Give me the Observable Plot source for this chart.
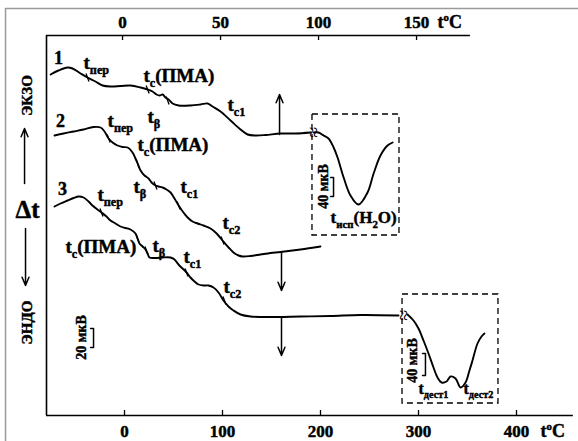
<!DOCTYPE html>
<html><head><meta charset="utf-8">
<script src="https://cdn.jsdelivr.net/npm/d3@7"></script>
<script src="https://cdn.jsdelivr.net/npm/@observablehq/plot@0.6"></script>
<style>body{margin:0;background:#fff} svg{display:block}</style>
</head><body><div id="chart"></div>
<script>
// ---- DATA (x in °C, y = Δt in arbitrary units) ----
// Curve 1 & 2 are read against the TOP temperature scale, curve 3 against the BOTTOM scale.
const curve1T = [-36.7,-32.7,-28.1,-25.5,-21.4,-17.9,-13.8,-10.2,-6.1,-1.0,4.1,9.2,12.8,15.3,17.3,18.9,20.4,21.9,23.5,25.5,28.6,34.7,39.8,43.4,45.9,50.0,55.1,60.2,63.8,67.9,73.0,80.6,88.3,95.9];
const curve1D = [341,345,348,347,342,338,334,330,329,329.5,330,328,326,324,321,320,321,318,316,312,310,310,311,312,309,304,295,286,281,280,280.5,282,282,283];
const box1T = [97.4,100.0,102.6,105.1,107.7,109.7,112.8,116.3,120.4,125.0,128.1,131.6,135.2,137.8];
const box1D = [283,283,280,277,268,258,238,220,211,223,242,260,270,273];
const curve2T = [-34.7,-30.1,-25.0,-19.9,-14.8,-11.2,-9.2,-7.1,-5.1,-2.6,0,2.6,5.1,6.6,7.7,9.2,11.2,13.3,14.8,16.8,18.4,20.4,22.4,24.5,26.5,28.6,31.1,33.2,35.7,38.3,41.3,44.9,48.0,51.0,54.1,56.6,59.2,61.2,65.3,70.4,75.5,80.6,90.8,101.0];
const curve2D = [280,282,284,286,288.5,288,284,277,273,270,268.5,268,263,257,252,245,240,237,233,230,229,228,226,223,217,210,203,198,194,192,190,187,182,175,168,163,160,159,159.5,161,162.5,163.5,166,169];
const curve3T = [-71.4,-65.3,-58.2,-52.0,-46.9,-41.8,-36.7,-32.7,-27.6,-23.5,-18.4,-14.3,-9.2,-4.1,1.0,6.1,11.2,13.3,15.3,18.4,21.4,23.5,25.5,31.6,38.8,46.9,51.0,55.1,59.2,63.3,67.3,71.4,75.5,80.6,85.7,90.8,95.9,101.0,106.1,111.2,118.4,128.6,149.0,179.6,210.2,240.8,279.6];
const curve3D = [209,212,215,217.5,219,218,214,210,206,203,199,195,192,189,187.5,186,182,177,172,169,166,162,158,157.5,158,158,156,151,147,143,138,134,131,130,130,128,123,115,109,105,101,99,98.5,99,99.5,100.5,100];
const box2T = [288.8,294.9,300.0,305.1,310.2,315.3,319.4,323.5,328.6,332.7,337.8,342.9,348.0,352.0,355.1,360.2,364.3,367.3];
const box2D = [101,95,87,75,62,48,38,33,34,39,37,28,33,45,55,72,79,82];
// transition marks on the curves
const ticks1T = [-17.9,12.8,23.0], ticks1D = [338,326,315];
const ticks2T = [-7.1,7.7,16.8,28.6,51.0], ticks2D = [277,252,230,210,175];
const ticks3T = [-23.5,13.3,22.4,63.3,102.0], ticks3D = [203,177,165,143,115];
// axis ticks
const topTicks = [0,50,100,150];
const bottomTicks = [0,100,200,300,400];

// ---- helpers ----
const topToBottom = t => 2*t - 2; // top scale expressed on bottom scale
const pts = (T, D, f = d => d) => T.map((t, i) => ({x: f(t), y: D[i]}));
const c1 = pts(curve1T, curve1D, topToBottom);
const b1 = pts(box1T, box1D, topToBottom);
const c2 = pts(curve2T, curve2D, topToBottom);
const c3 = pts(curve3T, curve3D);
const b2 = pts(box2T, box2D);
const tk = [...pts(ticks1T, ticks1D, topToBottom), ...pts(ticks2T, ticks2D, topToBottom), ...pts(ticks3T, ticks3D)];

// ---- annotations (positions in data units) ----
const curveNums = [{s:"1",x:-67.3,y:357},{s:"2",x:-65.3,y:294},{s:"3",x:-63.3,y:226}];
const tLabels = [
 {s:"t_{пер}",x:-41.8,y:353},{s:"t_{c}(ПМА)",x:19.4,y:340},{s:"t_{β}",x:23.5,y:299},{s:"t_{c1}",x:105.1,y:311},
 {s:"t_{пер}",x:-17.3,y:295},{s:"t_{c}(ПМА)",x:13.3,y:271},{s:"t_{β}",x:9.2,y:229},{s:"t_{c1}",x:57.1,y:229},{s:"t_{c2}",x:100,y:193},
 {s:"t_{пер}",x:-27.6,y:221},{s:"t_{c}(ПМА)",x:-60.2,y:169},{s:"t_{β}",x:28.6,y:170},{s:"t_{c1}",x:60.2,y:159},{s:"t_{c2}",x:101,y:129}
];
const boxLabel1 = [{s:"t_{исп}(H_{2}O)",x:210.2,y:198}];
const boxLabels2 = [{s:"t_{дест1}",x:300,y:27},{s:"t_{дест2}",x:345.9,y:27}];
const rotLabels = [{s:"ЭКЗО",x:-99,y:320},{s:"ЭНДО",x:-99,y:93}];
const scaleLabels = [{s:"20 мкВ",x:-43.9,y:78},{s:"40 мкВ",x:203.1,y:229},{s:"40 мкВ",x:293.9,y:55}];
const brackets = [{x:-31.6,y1:87,y2:68},{x:213.3,y1:238,y2:219},{x:307.1,y1:62,y2:40}];
const bracketPts = brackets.flatMap((b,i) => [{x:b.x-3,y:b.y1,k:i},{x:b.x,y:b.y1,k:i},{x:b.x,y:b.y2,k:i},{x:b.x-3,y:b.y2,k:i}]);
const boxes = [{x1:191.8,x2:280.6,y1:180,y2:301},{x1:283.7,x2:381.6,y1:12,y2:121}];
const breaks = [{x:192.9,y:283},{x:284.7,y:100}];
const arrows = [{x:158.2,y1:281,y2:321},{x:160.2,y1:163,y2:125},{x:160.2,y1:98,y2:60},{x:-102,y1:232,y2:287},{x:-101,y1:187,y2:130}];
const axLines = [{x1:-79.6,x2:353,y:380},{x1:-79.6,x2:458,y:0}];
const frameLines = [{x1:-121.4,x2:470,y:407}];

const F = "'Liberation Serif', 'Times New Roman', serif";
const T = (data, o) => Plot.text(data, {x:"x", y:"y", text:"s", fontFamily:F, fontWeight:"bold", fill:"black", stroke:"black", strokeWidth:0.45, paintOrder:"normal", ...o});
const chart = Plot.plot({
  width: 578, height: 441,
  marginLeft: 46, marginRight: 8, marginTop: 35, marginBottom: 26,
  x: {domain: [-79.6, 455.1], axis: null},
  y: {domain: [0, 380], axis: null},
  style: {fontFamily: F, background: "white", overflow: "visible"},
  marks: [
    // frame of the scanned figure
    Plot.ruleY(frameLines, {y:"y", x1:"x1", x2:"x2", stroke:"#9a9a9a", strokeWidth:1.5}),
    Plot.ruleX([{x:-121.4}], {x:"x", y1:-30, y2:407, stroke:"#9a9a9a", strokeWidth:1.5}),
    // axes
    Plot.ruleY(axLines, {y:"y", x1:"x1", x2:"x2", stroke:"black", strokeWidth:1.6}),
    Plot.ruleX([{x:-79.6}], {x:"x", y1:0, y2:380, stroke:"black", strokeWidth:1.6}),
    Plot.ruleX(topTicks.map(t => ({x: topToBottom(t)})), {x:"x", y1:380, y2:375, stroke:"black", strokeWidth:1.3}),
    Plot.ruleX(bottomTicks.map(t => ({x: t})), {x:"x", y1:0, y2:5, stroke:"black", strokeWidth:1.3}),
    T(topTicks.map(t => ({x: topToBottom(t), y:393, s: String(t)})), {fontSize:17}),
    T(bottomTicks.map(t => ({x: t, y:-16, s: String(t)})), {fontSize:17}),
    T([{x:319.4,y:393,s:"t^{o}C"},{x:424.5,y:-16,s:"t^{o}C"}], {textAnchor:"start", fontSize:18}),
    // curves
    Plot.line(c1, {x:"x", y:"y", curve:"catmull-rom", stroke:"black", strokeWidth:1.9}),
    Plot.line(b1, {x:"x", y:"y", curve:"catmull-rom", stroke:"black", strokeWidth:1.9}),
    Plot.line(c2, {x:"x", y:"y", curve:"catmull-rom", stroke:"black", strokeWidth:1.9}),
    Plot.line(c3, {x:"x", y:"y", curve:"catmull-rom", stroke:"black", strokeWidth:1.9}),
    Plot.line(b2, {x:"x", y:"y", curve:"catmull-rom", stroke:"black", strokeWidth:1.9}),
    Plot.link(tk, {x1:d=>d.x-1.5, x2:d=>d.x+1.5, y1:d=>d.y+4, y2:d=>d.y-4, stroke:"black", strokeWidth:1.3}),
    // boxes, breaks, arrows, scale bars
    Plot.rect(boxes, {x1:"x1", x2:"x2", y1:"y1", y2:"y2", fill:"none", stroke:"black", strokeWidth:1.3, strokeDasharray:"6,4"}),
    Plot.text(breaks, {x:"x", y:"y", text:()=>"≈", rotate:90, fontSize:20, fontFamily:F, fill:"black"}),
    Plot.arrow(arrows, {x1:"x", x2:"x", y1:"y1", y2:"y2", stroke:"black", strokeWidth:1.5, headLength:9, headAngle:45}),
    Plot.line(bracketPts, {x:"x", y:"y", z:"k", stroke:"black", strokeWidth:1.5}),
    // labels
    T(curveNums, {fontSize:18}),
    T(tLabels, {textAnchor:"start", fontSize:19}),
    T(boxLabel1, {textAnchor:"start", fontSize:17}),
    T(boxLabels2, {textAnchor:"start", fontSize:16}),
    T(rotLabels, {rotate:-90, fontSize:15}),
    T(scaleLabels, {rotate:-90, fontSize:14}),
    T([{x:-111.2,y:206,s:"Δt"}], {textAnchor:"start", fontSize:25})
  ]
});
document.getElementById("chart").appendChild(chart);

// turn _{...} / ^{...} into sub/superscript tspans
const NS = "http://www.w3.org/2000/svg";
chart.querySelectorAll("text").forEach(t => {
  const s = t.textContent;
  if (!/[_^]\{/.test(s)) return;
  const fs = parseFloat(getComputedStyle(t).fontSize) || 18;
  const parts = s.split(/([_^]\{[^}]*\})/).filter(p => p);
  while (t.firstChild) t.removeChild(t.firstChild);
  let shift = 0;
  for (const p of parts) {
    const ts = document.createElementNS(NS, "tspan");
    let target = 0, size = fs, content = p;
    if (p.startsWith("_{")) { target = fs * 0.3; size = fs * 0.64; content = p.slice(2, -1); }
    else if (p.startsWith("^{")) { target = -fs * 0.42; size = fs * 0.6; content = p.slice(2, -1); }
    ts.setAttribute("dy", (target - shift).toFixed(2));
    ts.setAttribute("font-size", size.toFixed(2));
    ts.textContent = content;
    t.appendChild(ts);
    shift = target;
  }
});
</script>
</body></html>
